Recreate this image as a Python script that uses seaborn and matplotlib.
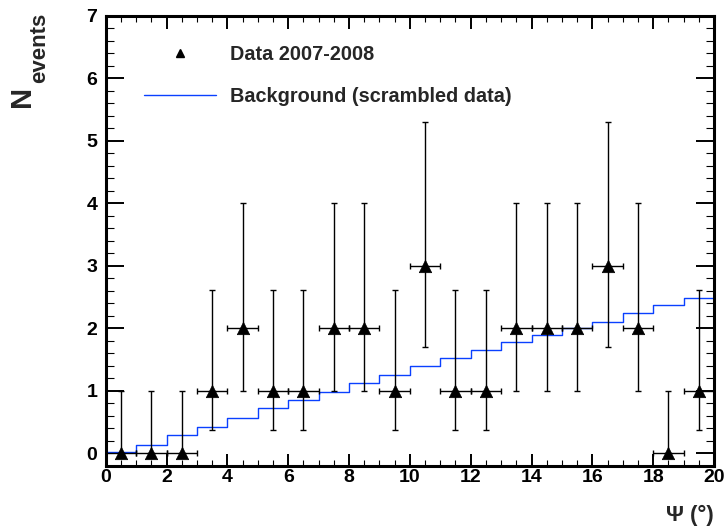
import numpy as np
import pandas as pd
import matplotlib
matplotlib.use("Agg")
import matplotlib.pyplot as plt
from matplotlib.lines import Line2D
from matplotlib.ticker import MultipleLocator
import seaborn as sns

# ---------------- data ----------------
bin_centers = [0.5, 1.5, 2.5, 3.5, 4.5, 5.5, 6.5, 7.5, 8.5, 9.5,
               10.5, 11.5, 12.5, 13.5, 14.5, 15.5, 16.5, 17.5, 18.5, 19.5]
counts = [0, 0, 0, 1, 2, 1, 1, 2, 2, 1, 3, 1, 1, 2, 2, 2, 3, 2, 0, 1]
# Poisson interval bounds
lower_bounds = [0, 0, 0, 0.38, 1.0, 0.38, 0.38, 1.0, 1.0, 0.38,
                1.7, 0.38, 0.38, 1.0, 1.0, 1.0, 1.7, 1.0, 0, 0.38]
upper_bounds = [1.0, 1.0, 1.0, 2.62, 4.0, 2.62, 2.62, 4.0, 4.0, 2.62,
                5.3, 2.62, 2.62, 4.0, 4.0, 4.0, 5.3, 4.0, 1.0, 2.62]
bin_half_width = 0.5

bin_edges = list(range(0, 21))
background = [0.02, 0.14, 0.30, 0.42, 0.57, 0.73, 0.85, 0.98, 1.12, 1.26,
              1.40, 1.52, 1.65, 1.78, 1.89, 2.01, 2.11, 2.24, 2.37, 2.48]

legend_labels = ["Data 2007-2008", "Background (scrambled data)"]
x_label = "Ψ (°)"
y_label_main = "N"
y_label_sub = "events"

# ---------------- style ----------------
sns.set_style("ticks")
plt.rcParams["font.family"] = ["Liberation Sans", "DejaVu Sans"]
plt.rcParams["font.weight"] = "bold"

W, H = 727, 531
fig = plt.figure(figsize=(W / 100, H / 100), dpi=100)
fig.patch.set_facecolor("white")

ax_left, ax_right, ax_top, ax_bottom = 105.7, 714.0, 15.8, 466.0
ax = fig.add_axes([ax_left / W, 1 - ax_bottom / H,
                   (ax_right - ax_left) / W, (ax_bottom - ax_top) / H])
ax.set_facecolor("white")

blue = "#0a40ff"

# background step histogram
bg_df = pd.DataFrame({"x": bin_edges, "y": background + [background[-1]]})
sns.lineplot(data=bg_df, x="x", y="y", drawstyle="steps-post", color=blue,
             linewidth=1.0, ax=ax, legend=False, zorder=2)
ax.vlines(bin_edges[0], -0.2, background[0], color=blue, linewidth=1.0, zorder=2)

# data with asymmetric errors
c = np.array(counts, dtype=float)
yerr = np.vstack([c - np.array(lower_bounds), np.array(upper_bounds) - c])
ax.errorbar(bin_centers, counts, xerr=bin_half_width, yerr=yerr, fmt="none",
            ecolor="black", elinewidth=1.0, capsize=2.3, capthick=1.0, zorder=3)
dat_df = pd.DataFrame({"x": bin_centers, "y": counts})
sns.scatterplot(data=dat_df, x="x", y="y", marker="^", s=80, color="black",
                edgecolor="black", linewidth=0.5, ax=ax, zorder=4, legend=False)

# axes
ax.set_xlim(0, 20)
ax.set_ylim(-0.2, 7)
ax.set_xlabel("")
ax.set_ylabel("")
ax.xaxis.set_major_locator(MultipleLocator(2))
ax.xaxis.set_minor_locator(MultipleLocator(0.5))
ax.set_yticks(range(0, 8))
ax.yaxis.set_minor_locator(MultipleLocator(0.2))

for s in ax.spines.values():
    s.set_visible(True)
    s.set_linewidth(2.2)
    s.set_color("black")

ax.tick_params(axis="both", which="both", direction="in", top=True, right=True,
               colors="black")
ax.tick_params(axis="y", which="major", length=13, width=1.4, pad=6, labelsize=14)
ax.tick_params(axis="y", which="minor", length=6, width=0.8)
ax.tick_params(axis="x", which="major", length=9, width=1.4, pad=2, labelsize=14)
ax.tick_params(axis="x", which="minor", length=4.5, width=0.8)
for lab in ax.get_xticklabels() + ax.get_yticklabels():
    lab.set_fontweight("bold")

# legend
handles = [Line2D([], [], marker="^", linestyle="none", color="black", markersize=6),
           Line2D([], [], color=blue, linewidth=1.0)]
ax.legend(handles, legend_labels, loc="upper left",
          bbox_to_anchor=((144 - ax_left) / (ax_right - ax_left),
                          1 - (45 - ax_top) / (ax_bottom - ax_top)),
          frameon=False, prop={"weight": "bold", "size": 14.3},
          handlelength=3.6, handletextpad=0.72, labelspacing=1.15,
          borderpad=0, borderaxespad=0)

# axis titles
fig.text(714 / W, 1 - 515 / H, x_label, ha="right", va="center",
         fontsize=16, fontweight="bold")
fig.text(22.5 / W, 1 - 96.5 / H, y_label_main, rotation=90, ha="center",
         va="center", fontsize=21, fontweight="bold")
fig.text(39.5 / W, 1 - 48 / H, y_label_sub, rotation=90, ha="center",
         va="center", fontsize=16, fontweight="bold")

fig.savefig("out.png", dpi=100, facecolor="white")
